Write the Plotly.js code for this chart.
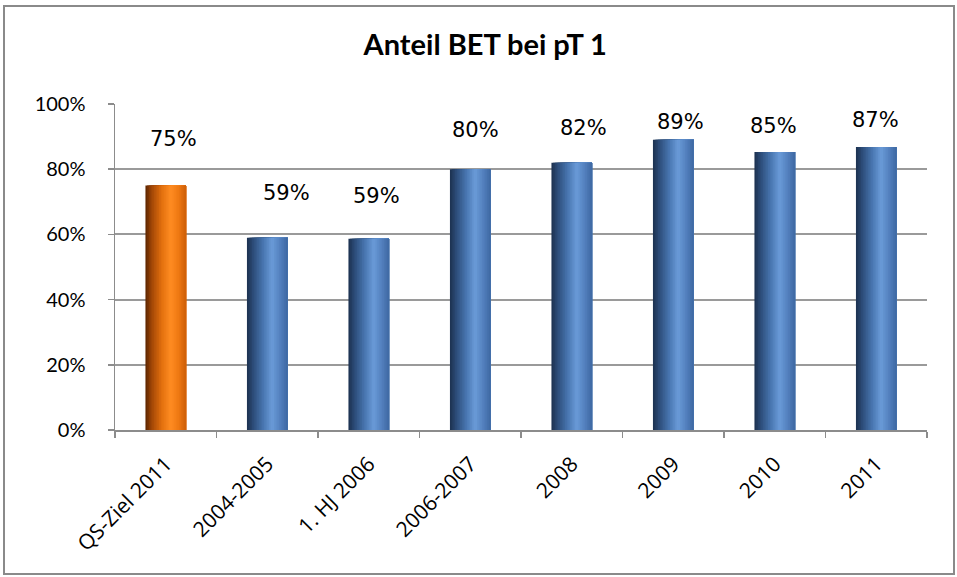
<!DOCTYPE html>
<html>
<head>
<meta charset="utf-8">
<script src="https://cdn.plot.ly/plotly-3.0.1.min.js"></script>
<style>
html,body{margin:0;padding:0;background:#fff;}
#chart{width:957px;height:577px;}
</style>
</head>
<body>
<div id="chart"></div>
<script>
// ---- data ----
const categories = ["QS-Ziel 2011", "2004-2005", "1. HJ 2006", "2006-2007", "2008", "2009", "2010", "2011"];
const values = [0.75, 0.59, 0.587, 0.80, 0.82, 0.89, 0.853, 0.868];
const yTickVals = [0, 0.2, 0.4, 0.6, 0.8, 1.0];
const chartTitle = "Anteil BET bei pT 1";

// ---- style ----
const barWidth = 0.4;
const nSlices = 24;
const blueStops = [[0,[28,48,78]],[0.15,[44,76,120]],[0.4,[72,118,176]],[0.62,[106,155,216]],[0.82,[83,128,190]],[1,[62,104,162]]];
const orangeStops = [[0,[90,36,0]],[0.15,[160,70,6]],[0.4,[226,112,14]],[0.62,[255,140,34]],[0.82,[238,120,18]],[1,[205,94,8]]];
// label offsets (pixels) relative to top of bar
const labelDx = [8, 19, 8, 5, 12, 7, -1, -1];
const labelDy = [47, 45, 43, 39, 35, 18, 26, 27];

function interp(stops, t){
  for(let i=0;i<stops.length-1;i++){
    const [p0,c0]=stops[i],[p1,c1]=stops[i+1];
    if(t>=p0 && t<=p1){
      const f=(t-p0)/(p1-p0);
      const c=c0.map((v,k)=>Math.round(v+(c1[k]-v)*f));
      return `rgb(${c[0]},${c[1]},${c[2]})`;
    }
  }
  const c=stops[stops.length-1][1];
  return `rgb(${c[0]},${c[1]},${c[2]})`;
}

const traces = [];
for(let i=0;i<nSlices;i++){
  const t=(i+0.5)/nSlices;
  const start=-barWidth/2 + i*barWidth/nSlices;
  const w=barWidth/2 - start;
  traces.push({
    type:"bar",
    x:categories,
    y:values,
    offset:start,
    width:w,
    marker:{
      color:categories.map((c,k)=>k===0?interp(orangeStops,t):interp(blueStops,t)),
      line:{width:0}
    },
    hoverinfo:i===0?"x+y":"skip",
    showlegend:false
  });
}

const annotations = categories.map((c,k)=>({
  x:k, y:values[k], xref:"x", yref:"y",
  text:Math.round(values[k]*100)+"%",
  showarrow:false,
  xshift:labelDx[k], yshift:labelDy[k],
  yanchor:"middle", xanchor:"center",
  font:{family:"DejaVu Sans, sans-serif", size:21, color:"#000"}
}));

const layout = {
  width:957, height:577,
  margin:{l:115, r:30, t:104, b:147},
  paper_bgcolor:"#fff", plot_bgcolor:"#fff",
  barmode:"overlay",
  title:{text:"<b>"+chartTitle+"</b>", x:0.507, xanchor:"center", y:0.922, yanchor:"middle",
         font:{family:"Lato, sans-serif", size:29, color:"#000"}},
  xaxis:{
    type:"category",
    tickson:"boundaries",
    ticks:"outside", ticklen:6, tickcolor:"#8c8c8c", tickwidth:1.5,
    showline:true, linecolor:"#8c8c8c", linewidth:1.5,
    showgrid:false,
    tickangle:-45,
    tickfont:{family:"Open Sans, sans-serif", size:21, color:"#000"},
    ticklabelstandoff:12,
    range:[-0.5,7.5]
  },
  yaxis:{
    range:[0,1],
    tickvals:yTickVals,
    tickformat:".0%",
    ticks:"outside", ticklen:6, tickcolor:"#8c8c8c", tickwidth:1.5,
    showline:true, linecolor:"#8c8c8c", linewidth:1.5,
    showgrid:true, gridcolor:"#9a9a9a", gridwidth:2,
    zeroline:false,
    tickfont:{family:"Lato, sans-serif", size:20, color:"#000"},
    ticklabelstandoff:18
  },
  annotations:annotations,
  shapes:[{
    type:"rect", xref:"paper", yref:"paper",
    x0:(4-115)/812, x1:(954-115)/812,
    y0:(430-574)/326, y1:(430-6)/326,
    line:{color:"#8a8a8a", width:2}, fillcolor:"rgba(0,0,0,0)", layer:"below"
  }]
};

Plotly.newPlot("chart", traces, layout, {displayModeBar:false, staticPlot:true});
</script>
</body>
</html>
